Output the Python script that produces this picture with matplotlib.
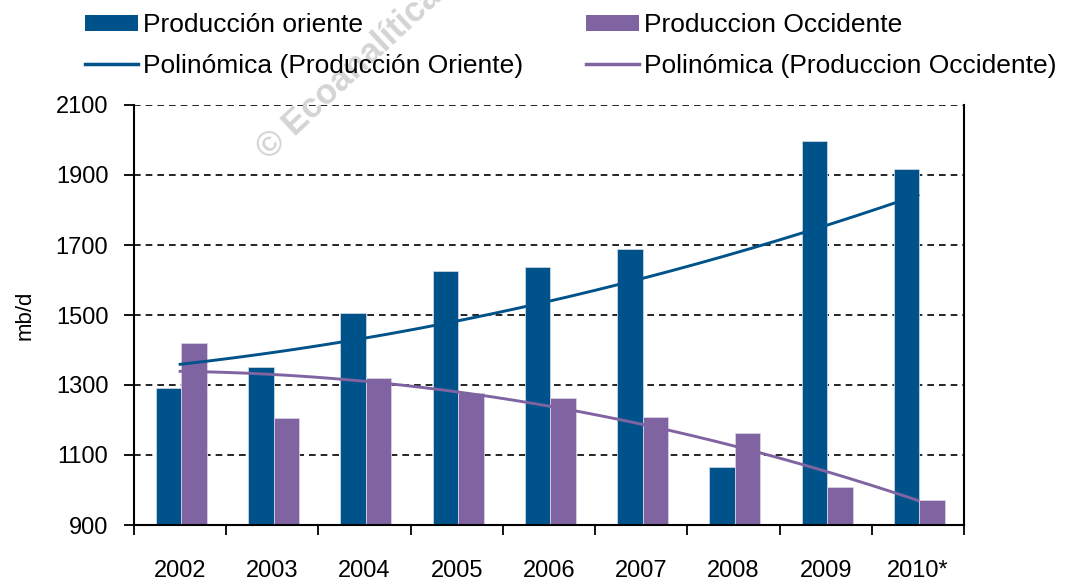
import numpy as np
import matplotlib
matplotlib.use("Agg")
import matplotlib.pyplot as plt
from matplotlib.patches import Patch
from matplotlib.lines import Line2D

plt.rcParams['font.family'] = ['Liberation Sans', 'DejaVu Sans']

years = ["2002", "2003", "2004", "2005", "2006", "2007", "2008", "2009", "2010*"]
oriente = [1291, 1352, 1506, 1626, 1638, 1690, 1067, 1998, 1917]
occidente = [1421, 1205, 1319, 1278, 1262, 1209, 1164, 1009, 971]
yticks = [900, 1100, 1300, 1500, 1700, 1900, 2100]

c_or = "#00538A"
c_oc = "#8064A2"

W, H = 1065, 580
fig = plt.figure(figsize=(W / 100, H / 100), dpi=100)
ax = fig.add_axes([134 / W, 1 - 525 / H, (964 - 134) / W, (525 - 105) / H])

x = np.arange(len(years))
bw = 0.277
off = 0.015
ax.bar(x - bw / 2 + off, np.array(oriente) - 900, bw, bottom=900, color=c_or,
       edgecolor="#c9d6e3", linewidth=0.6, zorder=2)
ax.bar(x + bw / 2 + off, np.array(occidente) - 900, bw, bottom=900, color=c_oc,
       edgecolor="#d9d0e6", linewidth=0.6, zorder=2)

xs = np.linspace(0, len(years) - 1, 200)
p_or = np.polyfit(x, oriente, 2)
p_oc = np.polyfit(x, occidente, 2)
ax.plot(xs, np.polyval(p_or, xs), color=c_or, lw=2.1, zorder=3)
ax.plot(xs, np.polyval(p_oc, xs), color=c_oc, lw=2.1, zorder=3)

ax.set_ylim(900, 2100)
ax.set_xlim(-0.5, len(years) - 0.5)
ax.set_yticks(yticks)
ax.set_yticklabels([str(v) for v in yticks])
for v in yticks[1:]:
    ax.axhline(v, color="black", lw=1.2, ls=(0, (4, 3)), zorder=1)

ax.set_xticks(np.arange(-0.5, len(years), 1.0))
ax.set_xticklabels([])
ax.set_xticks(x, minor=True)
ax.set_xticklabels(years, minor=True)
ax.tick_params(axis="x", which="major", length=7, width=1.3, direction="out")
ax.tick_params(axis="x", which="minor", length=0, pad=25, labelsize=17)
ax.tick_params(axis="y", which="major", length=7, width=1.3, direction="out",
               pad=11.5, labelsize=17)

for s in ["left", "bottom", "right"]:
    ax.spines[s].set_linewidth(1.5)
ax.spines["top"].set_visible(False)

ax.set_ylabel("mb/d", fontsize=16)
ax.yaxis.set_label_coords((36 - 134) / (964 - 134), 0.5)

handles = [
    Patch(facecolor=c_or, edgecolor="none"),
    Line2D([0], [0], color=c_or, lw=2.5),
    Patch(facecolor=c_oc, edgecolor="none"),
    Line2D([0], [0], color=c_oc, lw=2.5),
]
labels = ["Producción oriente", "Polinómica (Producción Oriente)",
          "Produccion Occidente", "Polinómica (Produccion Occidente)"]
fig.legend(handles, labels, ncol=2, loc="upper left",
           bbox_to_anchor=(72 / W, 1.0), frameon=False, fontsize=19,
           handlelength=2.0, handleheight=0.58, handletextpad=0.18,
           columnspacing=2.4, labelspacing=0.62, borderaxespad=0.1)

fig.text(263 / W, 1 - 154 / H, "© Ecoanalítica", rotation=43,
         rotation_mode="anchor", ha="left", va="center", fontsize=25,
         fontweight="bold", color="#cfcfcf", alpha=0.9, zorder=0)

fig.savefig("out.png", dpi=100)
